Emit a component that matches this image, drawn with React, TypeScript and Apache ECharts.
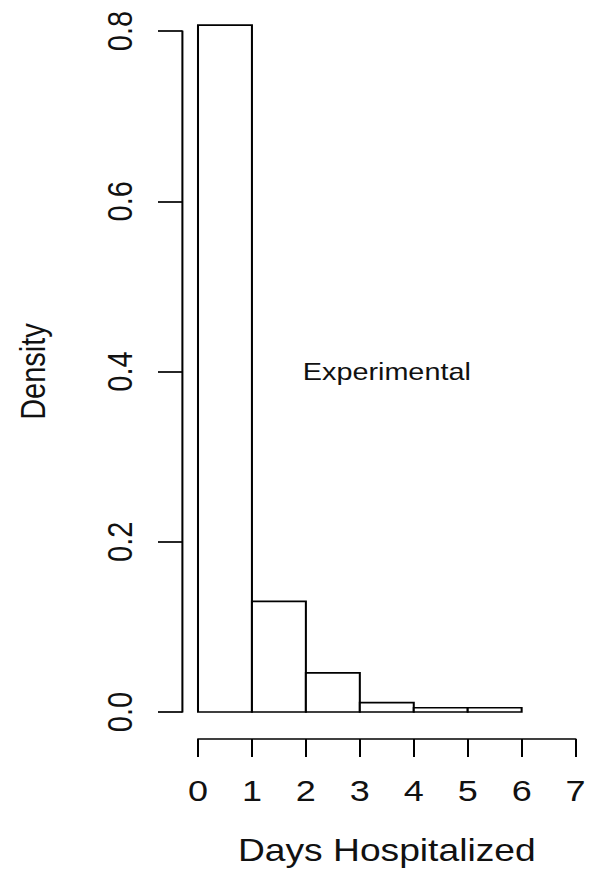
import React, { useEffect, useRef } from "react";
import * as echarts from "echarts";

const binStarts = [0, 1, 2, 3, 4, 5];
const binEnds = [1, 2, 3, 4, 5, 6];
const densities = [0.807, 0.13, 0.046, 0.011, 0.005, 0.005];
const xTicks = [0, 1, 2, 3, 4, 5, 6, 7];
const yTicks = [0, 0.2, 0.4, 0.6, 0.8];
const annotation = { x: 3.5, y: 0.4, text: "Experimental" };

const STRETCH = 1.2;
const FULL_W = 589;
const FULL_H = 876;
const INNER_W = FULL_W / STRETCH;
const FONT = "'Liberation Sans', Arial, sans-serif";

export default function App() {
  const ref = useRef<HTMLDivElement>(null);

  useEffect(() => {
    if (!ref.current) return;
    const chart = echarts.init(ref.current, undefined, { renderer: "svg" });
    const bins = binStarts.map((s, i) => [s, binEnds[i], densities[i]]);
    const option = {
      animation: false,
      backgroundColor: "#ffffff",
      grid: { left: 198 / STRETCH, right: INNER_W - 578 / STRETCH, top: 31, bottom: FULL_H - 712 },
      xAxis: {
        type: "value",
        min: xTicks[0],
        max: xTicks[xTicks.length - 1],
        interval: 1,
        offset: 27,
        name: "Days Hospitalized",
        nameLocation: "middle",
        nameGap: 96,
        nameTextStyle: { fontFamily: FONT, fontSize: 31, color: "#111" },
        axisLine: { show: true, onZero: false, lineStyle: { color: "#000", width: 1.7 } },
        axisTick: { show: true, inside: false, length: 18, lineStyle: { color: "#000", width: 1.7 } },
        axisLabel: { fontFamily: FONT, fontSize: 30, color: "#111", margin: 37 },
        splitLine: { show: false },
      },
      yAxis: {
        type: "value",
        min: yTicks[0],
        max: yTicks[yTicks.length - 1],
        interval: 0.2,
        offset: 198 / STRETCH - 182 / STRETCH,
        name: "Density",
        nameLocation: "middle",
        nameGap: 110,
        nameRotate: 90,
        nameTextStyle: { fontFamily: FONT, fontSize: 29, color: "#111" },
        axisLine: { show: true, onZero: false, lineStyle: { color: "#000", width: 1.7 } },
        axisTick: { show: true, inside: false, length: 20, lineStyle: { color: "#000", width: 1.7 } },
        axisLabel: {
          fontFamily: FONT,
          fontSize: 29,
          color: "#111",
          rotate: 90,
          align: "center",
          verticalAlign: "bottom",
          margin: 37,
          formatter: (v: number) => v.toFixed(1),
        },
        splitLine: { show: false },
      },
      series: [
        {
          type: "custom",
          clip: false,
          data: bins,
          renderItem: (params: any, api: any) => {
            const x0 = api.value(0);
            const x1 = api.value(1);
            const v = api.value(2);
            const p0 = api.coord([x0, v]);
            const p1 = api.coord([x1, 0]);
            return {
              type: "rect",
              shape: { x: p0[0], y: p0[1], width: p1[0] - p0[0], height: p1[1] - p0[1] },
              style: { fill: "#fff", stroke: "#000", lineWidth: 1.7 },
            };
          },
        },
        {
          type: "custom",
          clip: false,
          data: [[annotation.x, annotation.y]],
          renderItem: (params: any, api: any) => {
            const p = api.coord([api.value(0), api.value(1)]);
            return {
              type: "text",
              x: p[0],
              y: p[1],
              style: {
                text: annotation.text,
                fontFamily: FONT,
                fontSize: 24,
                fill: "#111",
                align: "center",
                verticalAlign: "middle",
              },
            };
          },
        },
      ],
    };
    chart.setOption(option as any);
    return () => chart.dispose();
  }, []);

  return (
    <div
      style={{
        position: "fixed",
        left: 0,
        top: 0,
        width: FULL_W,
        height: FULL_H,
        overflow: "hidden",
        background: "#fff",
      }}
    >
      <div
        ref={ref}
        style={{
          width: INNER_W,
          height: FULL_H,
          transform: `scaleX(${STRETCH})`,
          transformOrigin: "0 0",
        }}
      />
    </div>
  );
}
